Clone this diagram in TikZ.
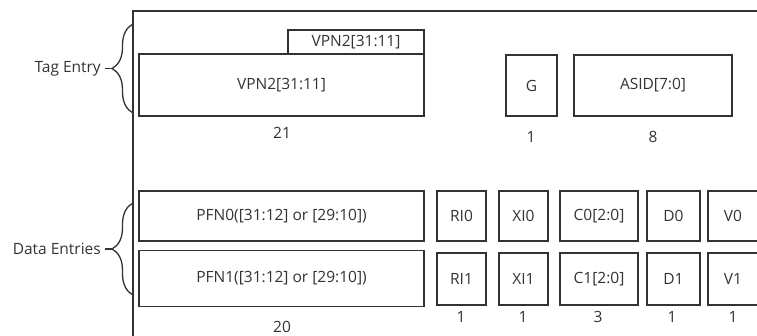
\documentclass[tikz,border=0pt]{standalone}
\usepackage{fontspec}
\setmainfont{Open Sans}
\usetikzlibrary{decorations.pathreplacing}
\definecolor{ink}{HTML}{333333}
\tikzset{
  x=1pt, y=-1pt,
  fld/.style={draw=ink, line width=1.8pt, inner sep=0pt, text=ink, font=\fontsize{15.5}{17}\selectfont},
  num/.style={inner sep=0pt, text=ink, font=\fontsize{15.5}{17}\selectfont},
  lbl/.style={inner sep=0pt, text=ink, font=\fontsize{15.5}{17}\selectfont},
  frame/.style={draw=ink, line width=1.8pt},
  bracestyle/.style={draw=ink, line width=1.3pt, decorate, decoration={brace, amplitude=21pt}}
}
\begin{document}
\begin{tikzpicture}
\useasboundingbox (0,0) rectangle (757,336);
\begin{scope}
\clip (0,0) rectangle (757,336);
% outer frame
\coordinate (ftr) at (760,11);
\coordinate (ftl) at (133,11);
\coordinate (fbl) at (133,340);
\draw[frame] (ftr) -- (ftl) -- (fbl);

% tag entry
\node[fld, minimum width=136pt, minimum height=24pt] (vpnsmall) at (356,42) {VPN2[31:11]};
\node[fld, minimum width=285pt, minimum height=62pt] (vpn) at (281.5,85) {VPN2[31:11]};
\node[num] (n21) at (282,133) {21};
\node[fld, minimum width=51pt, minimum height=61pt] (g) at (531.5,85.5) {G};
\node[num] (n1g) at (531,137) {1};
\node[fld, minimum width=158pt, minimum height=61pt] (asid) at (653,85.5) {ASID[7:0]};
\node[num] (n8) at (653,137) {8};

% data entries
\node[fld, minimum width=285pt, minimum height=50pt] (pfn0) at (281.5,216) {PFN0([31:12] or [29:10])};
\node[fld, minimum width=285pt, minimum height=56pt] (pfn1) at (281.5,278.5) {PFN1([31:12] or [29:10])};
\node[num] (n20) at (282,327) {20};

\node[fld, minimum width=49pt, minimum height=50pt] (ri0) at (461.5,216) {RI0};
\node[fld, minimum width=49pt, minimum height=52pt] (ri1) at (461.5,279) {RI1};
\node[fld, minimum width=49pt, minimum height=50pt] (xi0) at (523.5,216) {XI0};
\node[fld, minimum width=49pt, minimum height=52pt] (xi1) at (523.5,279) {XI1};
\node[fld, minimum width=78pt, minimum height=50pt] (c0) at (599,216) {C0[2:0]};
\node[fld, minimum width=78pt, minimum height=52pt] (c1) at (599,279) {C1[2:0]};
\node[fld, minimum width=53pt, minimum height=50pt] (d0) at (673.5,216) {D0};
\node[fld, minimum width=53pt, minimum height=52pt] (d1) at (673.5,279) {D1};
\node[fld, minimum width=52pt, minimum height=50pt] (v0) at (734,216) {};
\node[fld, minimum width=52pt, minimum height=52pt] (v1) at (734,279) {};
\node[lbl] (v0t) at (733,216) {V0};
\node[lbl] (v1t) at (733,279) {V1};
\node[num] (nri) at (461,317) {1};
\node[num] (nxi) at (523,317) {1};
\node[num] (nc) at (598,317) {3};
\node[num] (nd) at (672,317) {1};
\node[num] (nv) at (733,317) {1};
\end{scope}

% braces
\coordinate (tb) at (133,113);
\coordinate (tt) at (133,24);
\draw[bracestyle] (tb) -- (tt);
\coordinate (ttip) at (112,68.5);
\coordinate (tdash) at (105,68.5);
\draw[draw=ink, line width=1.3pt] (ttip) -- (tdash);
\node[lbl, anchor=east] (tag) at (101,68.5) {Tag Entry};

\coordinate (db) at (133,295);
\coordinate (dt) at (133,203);
\draw[bracestyle] (db) -- (dt);
\coordinate (dtip) at (112,249);
\coordinate (ddash) at (105,249);
\draw[draw=ink, line width=1.3pt] (dtip) -- (ddash);
\node[lbl, anchor=east] (data) at (101,249) {Data Entries};
\end{tikzpicture}
\end{document}
